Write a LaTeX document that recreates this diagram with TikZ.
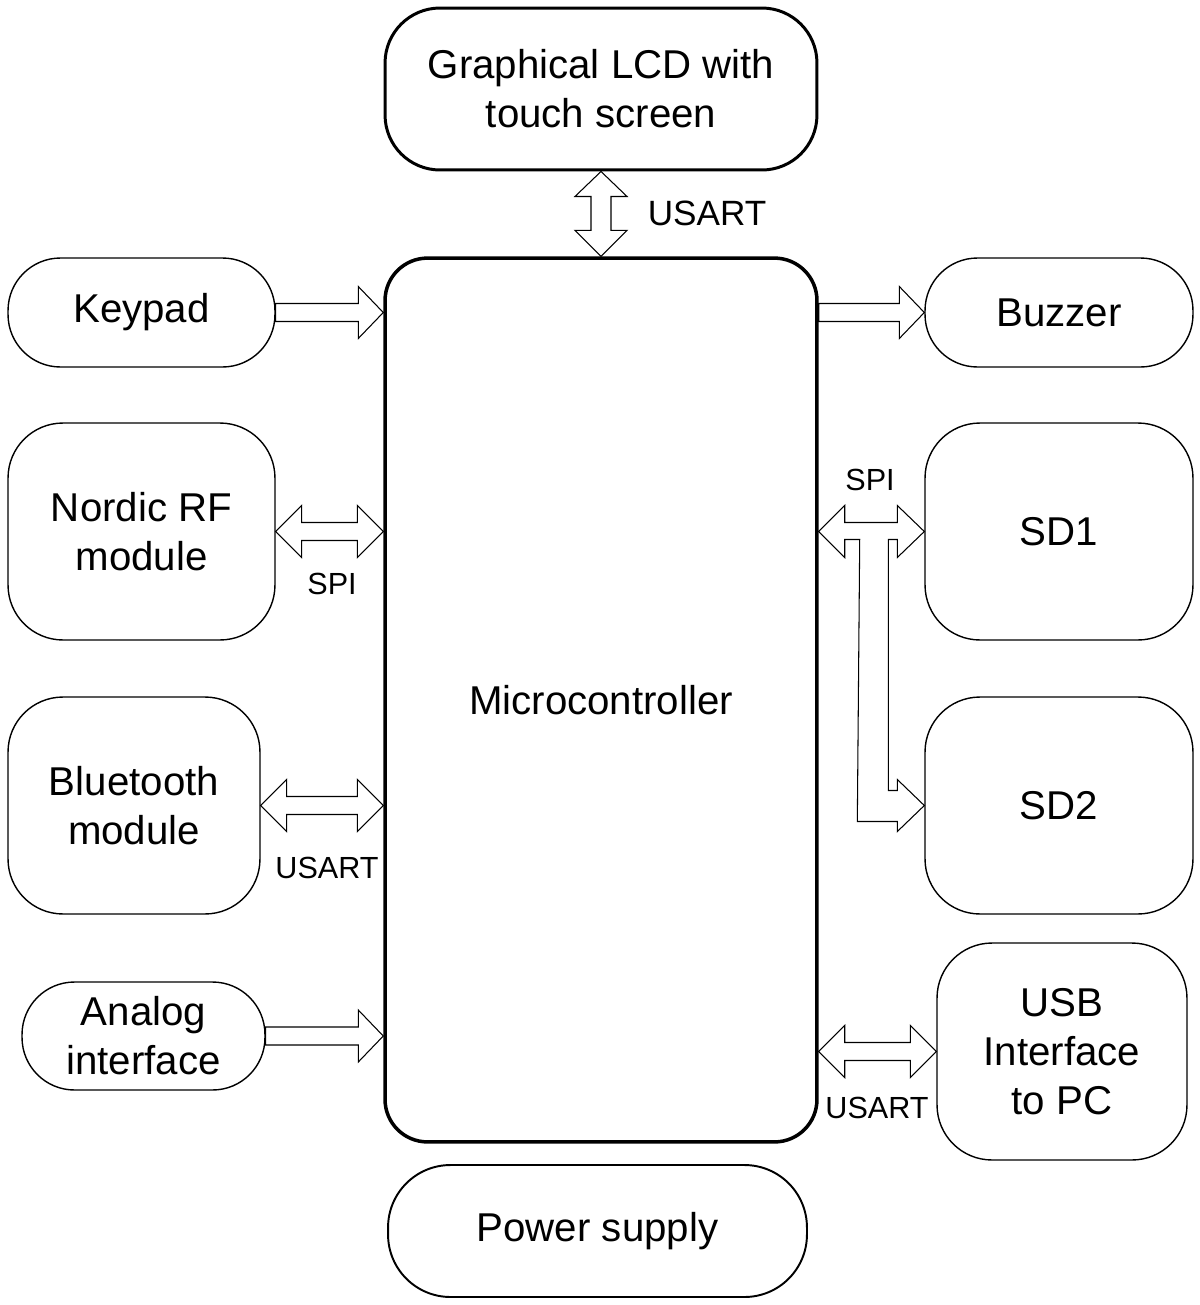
\documentclass[tikz,border=0pt]{standalone}
\usepackage{fontspec}
\setmainfont{Liberation Sans}
\usetikzlibrary{calc, positioning}

% hollow block arrows, offsets in px (tail #1, tip #2)
\newcommand{\blockarrow}[2]{%
  \draw[hollow] ($(#1)+(0,-9)$) -- ($(#2)+(-25,-9)$) -- ($(#2)+(-25,-26)$) -- (#2)
    -- ($(#2)+(-25,26)$) -- ($(#2)+(-25,9)$) -- ($(#1)+(0,9)$) -- cycle;}
\newcommand{\blockdarrow}[2]{%
  \draw[hollow] (#1) -- ($(#1)+(26,-26)$) -- ($(#1)+(26,-9)$) -- ($(#2)+(-26,-9)$)
    -- ($(#2)+(-26,-26)$) -- (#2) -- ($(#2)+(-26,26)$) -- ($(#2)+(-26,9)$)
    -- ($(#1)+(26,9)$) -- ($(#1)+(26,26)$) -- cycle;}

\begin{document}
\begin{tikzpicture}[
		  x=0.02cm, y=-0.02cm,
		  font=\fontsize{22.9}{27.8}\selectfont,
		  box/.style={
		    draw,
		    line width=0.8pt,
		    rounded corners=1.1cm,
		    align=center,
		    minimum width=5.36cm,
		    minimum height=4.34cm,
		    inner sep=2pt
		  },
		  pillbox/.style={box, minimum height=2.18cm, rounded corners=1.05cm},
		  lcdbox/.style={box, line width=1.7pt, minimum width=8.64cm, minimum height=3.24cm},
		  cpubox/.style={box, line width=2pt, rounded corners=0.85cm, minimum width=8.64cm, minimum height=17.68cm},
		  powerbox/.style={box, line width=1.1pt, rounded corners=1.25cm, minimum width=8.38cm, minimum height=2.64cm},
		  hollow/.style={draw, fill=white, line width=0.6pt, line join=miter},
		  buslabel/.style={font=\fontsize{17.4}{20}\selectfont, inner sep=0pt}
		]
		\useasboundingbox (0,0) rectangle (1200,1305);

		% --- centre ---
		\node[cpubox] (mcu) at (601,700) {Microcontroller};
		\node[lcdbox] (lcd) at (601,89) {Graphical LCD with\\touch screen};
		\node[powerbox] (power) at (597.5,1231) {Power supply};

		% --- left side ---
		\node[pillbox, minimum width=5.34cm] (keypad) at (141.5,312.5) {Keypad};
		\node[box, minimum width=5.34cm] (nordic) at (141.5,531.5) {Nordic RF\\module};
		\node[box, minimum width=5.04cm] (bt) at (134,805.5) {Bluetooth\\module};
		\node[pillbox, minimum width=4.86cm, minimum height=2.16cm] (analog) at (143.5,1036) {Analog\\interface};

		% --- right side ---
		\node[pillbox] (buzzer) at (1059,312.5) {Buzzer};
		\node[box] (sd1) at (1059,531.5) {SD1};
		\node[box] (sd2) at (1059,805.5) {SD2};
		\node[box, minimum width=5cm] (usb) at (1062,1051.5) {USB\\Interface\\to PC};

		% --- arrows ---
		\draw[hollow] (lcd.south) -- ($(lcd.south)+(26,25)$) -- ($(lcd.south)+(10,25)$)
		  -- ($(mcu.north)+(10,-26)$) -- ($(mcu.north)+(26,-26)$) -- (mcu.north)
		  -- ($(mcu.north)+(-26,-26)$) -- ($(mcu.north)+(-10,-26)$)
		  -- ($(lcd.south)+(-10,25)$) -- ($(lcd.south)+(-26,25)$) -- cycle;

		\blockarrow{keypad.east}{keypad.east -| mcu.west}
		\blockdarrow{nordic.east}{nordic.east -| mcu.west}
		\blockdarrow{bt.east}{bt.east -| mcu.west}
		\blockarrow{analog.east}{analog.east -| mcu.west}

		\blockarrow{buzzer.west -| mcu.east}{buzzer.west}
		\blockdarrow{usb.west -| mcu.east}{usb.west}

		% SPI bus to both cards
		\coordinate (spi) at (sd1.west -| mcu.east);
		\draw[hollow] (spi) -- ($(spi)+(26,-26)$) -- ($(spi)+(26,-9)$)
		  -- ($(sd1.west)+(-27,-9)$) -- ($(sd1.west)+(-27,-26)$) -- (sd1.west)
		  -- ($(sd1.west)+(-27,26)$) -- ($(sd1.west)+(-27,8)$) -- ($(sd1.west)+(-36,8)$)
		  -- ($(sd2.west)+(-36,-15)$) -- ($(sd2.west)+(-27,-15)$) -- ($(sd2.west)+(-27,-26)$)
		  -- (sd2.west) -- ($(sd2.west)+(-27,26)$) -- ($(sd2.west)+(-27,16)$)
		  -- ($(sd2.west)+(-67,16)$) -- ($(spi)+(41,8)$) -- ($(spi)+(26,8)$)
		  -- ($(spi)+(26,26)$) -- cycle;

		% --- bus labels ---
		\node[buslabel, font=\fontsize{20}{24}\selectfont] (usartlcd) at (707,213) {USART};
		\node[buslabel] (spinordic) at (332,584) {SPI};
		\node[buslabel] (usartbt) at (327,868) {USART};
		\node[buslabel] (spisd) at (870,480) {SPI};
		\node[buslabel] (usartusb) at (877,1108) {USART};

		\end{tikzpicture}
\end{document}
